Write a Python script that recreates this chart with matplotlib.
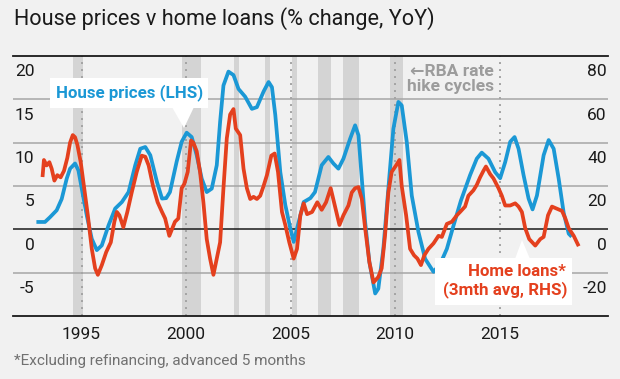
import matplotlib
matplotlib.use('Agg')
import matplotlib.pyplot as plt
import matplotlib.transforms as mtransforms
from matplotlib.patches import Rectangle, Polygon

plt.rcParams['font.family'] = ['Roboto', 'DejaVu Sans']

# House prices, % change YoY (LHS)
house_years = [1992.93, 1993.25, 1993.49, 1993.81, 1994.05, 1994.29, 1994.45, 1994.69, 1994.85,
               1995.01, 1995.25, 1995.49, 1995.73, 1995.97, 1996.29, 1996.61, 1996.93, 1997.25,
               1997.57, 1997.81, 1998.05, 1998.29, 1998.61, 1998.85, 1999.05, 1999.23, 1999.55,
               1999.79, 2000.03, 2000.27, 2000.51, 2000.75, 2000.99, 2001.23, 2001.47, 2001.63,
               2001.79, 2002.03, 2002.27, 2002.51, 2002.83, 2003.15, 2003.39, 2003.71, 2003.95,
               2004.11, 2004.27, 2004.51, 2004.75, 2004.99, 2005.15, 2005.39, 2005.63, 2005.95,
               2006.17, 2006.49, 2006.81, 2007.05, 2007.29, 2007.53, 2007.85, 2008.09, 2008.25,
               2008.41, 2008.57, 2008.77, 2009.05, 2009.2, 2009.44, 2009.68, 2009.92, 2010.16,
               2010.32, 2010.56, 2010.8, 2011.12, 2011.44, 2011.84, 2012.16, 2012.48, 2012.8,
               2013.15, 2013.59, 2013.91, 2014.15, 2014.47, 2014.79, 2015.03, 2015.27, 2015.51,
               2015.72, 2015.91, 2016.15, 2016.39, 2016.58, 2016.79, 2017.11, 2017.35, 2017.59,
               2017.83, 2018.07, 2018.31, 2018.39]
house_pct = [0.85, 0.85, 1.4, 2.2, 3.5, 5.85, 7.0, 7.6, 6.8,
             4.7, 1.6, -1.1, -2.4, -1.85, 0.45, 2.4, 3.15, 4.3,
             7.4, 9.3, 9.5, 8.55, 5.45, 3.55, 3.6, 4.3, 7.8,
             10.1, 11.15, 10.65, 8.55, 5.85, 4.3, 4.7, 7.4, 12.4,
             16.6, 18.2, 17.8, 16.2, 15.3, 13.9, 14.1, 15.9, 17.0,
             16.4, 13.2, 6.6, 2.8, 0.1, -1.45, 0.85, 3.15, 3.6,
             4.3, 7.4, 8.35, 7.6, 7.0, 8.15, 10.45, 12.0, 10.85,
             5.85, 0.85, -3.75, -7.4, -6.85, -2.25, 4.7, 11.6, 14.7,
             14.3, 10.1, 3.9, -0.3, -3.4, -4.9, -4.0, -2.25, 0.45,
             3.3, 6.25, 8.15, 8.85, 8.15, 6.6, 5.9, 7.75, 10.1,
             10.65, 9.3, 6.25, 3.55, 2.3, 3.9, 8.55, 10.3, 9.3,
             5.85, 1.9, -0.5, -0.7]

# Home loans, 3mth avg % change YoY (RHS)
loan_years = [1993.14, 1993.2, 1993.33, 1993.46, 1993.57, 1993.7, 1993.84, 1994.0, 1994.16,
              1994.32, 1994.45, 1994.58, 1994.69, 1994.8, 1994.96, 1995.12, 1995.3, 1995.49,
              1995.65, 1995.78, 1995.97, 1996.18, 1996.4, 1996.57, 1996.69, 1996.81, 1997.0,
              1997.19, 1997.4, 1997.64, 1997.88, 1998.05, 1998.21, 1998.42, 1998.64, 1998.85,
              1999.0, 1999.2, 1999.47, 1999.63, 1999.79, 1999.92, 2000.08, 2000.24, 2000.35,
              2000.51, 2000.67, 2000.83, 2000.99, 2001.15, 2001.31, 2001.47, 2001.63, 2001.79,
              2001.95, 2002.11, 2002.27, 2002.38, 2002.59, 2002.75, 2002.91, 2003.07, 2003.23,
              2003.39, 2003.55, 2003.71, 2003.87, 2004.08, 2004.24, 2004.4, 2004.59, 2004.75,
              2004.94, 2005.15, 2005.31, 2005.47, 2005.63, 2005.79, 2006.03, 2006.28, 2006.49,
              2006.7, 2006.92, 2007.08, 2007.34, 2007.53, 2007.77, 2007.93, 2008.09, 2008.25,
              2008.41, 2008.57, 2008.77, 2008.97, 2009.2, 2009.36, 2009.52, 2009.68, 2009.84,
              2010.05, 2010.21, 2010.32, 2010.53, 2010.72, 2010.91, 2011.07, 2011.24, 2011.4,
              2011.6, 2011.84, 2012.08, 2012.24, 2012.48, 2012.72, 2012.96, 2013.11, 2013.35,
              2013.51, 2013.75, 2013.91, 2014.07, 2014.23, 2014.35, 2014.55, 2014.71, 2014.95,
              2015.11, 2015.27, 2015.51, 2015.75, 2015.91, 2016.07, 2016.23, 2016.42, 2016.71,
              2016.95, 2017.11, 2017.32, 2017.51, 2017.75, 2017.99, 2018.15, 2018.31, 2018.55,
              2018.75]
loan_pct = [25, 32, 29.5, 31, 28, 22.5, 25, 24, 27,
            33, 40, 43.5, 42.5, 39, 31, 19.5, 6.5, -9,
            -18, -21, -16.5, -10.5, -6, 3.5, 8, 6.5, 1,
            8, 17, 26.5, 34, 33.5, 29.5, 20, 12.5, 8,
            5, -3, 3.5, 5, 19, 21, 26.5, 41, 40,
            36, 26.5, 12.5, -4.5, -13.5, -21, -13.5, -6, 19,
            42, 53, 55.5, 46.5, 43.5, 28, 19, 14, 15,
            14, 15.5, 20, 25, 34, 35, 26.5, 8, 2,
            -6, -13.5, -9, 6.5, 12, 7, 8, 12.5, 9,
            12.5, 19, 12.5, 2, 6.5, 11, 17, 19, 19.5,
            14, 0.5, -15, -24.5, -22, -18, -3, 17, 26.5,
            29.5, 32, 20, 6.5, -9, -12, -13.5, -16.5, -12,
            -9, -6.5, -3, -3.5, 2.5, 3.5, 6.5, 8, 10.5,
            15.5, 18, 20.5, 24, 27, 29, 25.5, 23.5, 19,
            15.5, 11, 11, 12, 10.5, 8, 0.5, -4.5, -7.5,
            -4.5, -3.5, 6.5, 10.5, 9.5, 8.5, 5, 0.5, -3,
            -7]

# RBA rate hike cycles
hike_start = [1994.58, 1999.82, 2002.30, 2003.80, 2005.08, 2006.29, 2007.52, 2009.75]
hike_end = [1995.09, 2000.70, 2002.54, 2004.01, 2005.33, 2006.94, 2008.29, 2010.37]

year_ticks = [1995, 2000, 2005, 2010, 2015]
left_ticks = [20, 15, 10, 5, 0, -5]
right_ticks = [80, 60, 40, 20, 0, -20]

BG = '#f1f1f1'
BLUE = '#1b98d5'
RED = '#e4401e'
W, H = 620, 379

fig = plt.figure(figsize=(W / 100, H / 100), dpi=100, facecolor=BG)

# axes box in pixels: x 13..608, y 56..316
ax = fig.add_axes([13 / W, 1 - 316 / H, 595 / W, 260 / H])
ax.set_facecolor(BG)
ax.set_xlim(1991.72, 2020.19)
ax.set_ylim(-10, 20)
for s in ax.spines.values():
    s.set_visible(False)

for a, b in zip(hike_start, hike_end):
    ax.axvspan(a, b, color='#d4d4d4', lw=0, zorder=0)
for yr in year_ticks:
    ax.axvline(yr, color='#a3a3a3', lw=1.4, ls=(0, (1, 2.6)), zorder=1)
for v in left_ticks:
    if v not in (0, 20):
        ax.axhline(v, color='#a6a6a6', lw=1.1, zorder=1)
ax.axhline(0, color='#1a1a1a', lw=1.1, zorder=1)
ax.axhline(20, color='#1a1a1a', lw=1.3, zorder=1, clip_on=False)
ax.axhline(-10, color='#1a1a1a', lw=1.3, zorder=1, clip_on=False)

ax.plot(house_years, house_pct, color=BLUE, lw=2.7, zorder=3, solid_joinstyle='round')

ax.set_xticks(year_ticks)
ax.set_xticklabels([str(y) for y in year_ticks], fontsize=12.5, color='#1a1a1a')
ax.tick_params(axis='x', length=0, pad=8)
ax.set_yticks([])

down = mtransforms.ScaledTranslation(0, -16 / 100, fig.dpi_scale_trans)
for v in left_ticks:
    ax.text(0.036, v, str(v), transform=ax.get_yaxis_transform() + down,
            ha='right', va='center', fontsize=12.5, color='#1a1a1a', zorder=2)

ax2 = ax.twinx()
ax2.set_ylim(-40, 80)
ax2.patch.set_visible(False)
for s in ax2.spines.values():
    s.set_visible(False)
ax2.set_yticks([])
ax2.plot(loan_years, loan_pct, color=RED, lw=2.7, zorder=3, solid_joinstyle='round')
for v in right_ticks:
    ax2.text(0.998, v, str(v), transform=ax2.get_yaxis_transform() + down,
             ha='right', va='center', fontsize=12.5, color='#1a1a1a')

# overlay in pixel coordinates for labels and callouts
ov = fig.add_axes([0, 0, 1, 1], zorder=5)
ov.set_xlim(0, W)
ov.set_ylim(H, 0)
ov.axis('off')

ov.add_patch(Rectangle((50, 78), 158, 30, facecolor='white', edgecolor='none'))
ov.add_patch(Polygon([(172, 107), (194, 107), (184, 128)], closed=True,
                     facecolor='white', edgecolor='none'))
ov.text(130, 93, 'House prices (LHS)', color=BLUE, fontsize=12.2, fontweight='bold',
        ha='center', va='center')

ov.add_patch(Rectangle((435, 258), 137, 47, facecolor='white', edgecolor='none'))
ov.add_patch(Polygon([(515, 259), (530, 259), (522, 240)], closed=True,
                     facecolor='white', edgecolor='none'))
ov.text(566, 272, 'Home loans*', color=RED, fontsize=12.2, fontweight='bold',
        ha='right', va='center')
ov.text(567, 290, '(3mth avg, RHS)', color=RED, fontsize=12.2, fontweight='bold',
        ha='right', va='center')

ov.text(494, 71, '\u2190RBA rate', color='#9c9c9c', fontsize=12.5, fontweight='bold',
        ha='right', va='center')
ov.text(494, 87, 'hike cycles', color='#9c9c9c', fontsize=12.5, fontweight='bold',
        ha='right', va='center')

ov.text(14, 19, 'House prices v home loans (% change, YoY)', color='#1a1a1a',
        fontsize=15.6, ha='left', va='center')
ov.text(14, 361, '*Excluding refinancing, advanced 5 months', color='#707070',
        fontsize=11, ha='left', va='center')

fig.savefig('out.png', dpi=100, facecolor=BG)
